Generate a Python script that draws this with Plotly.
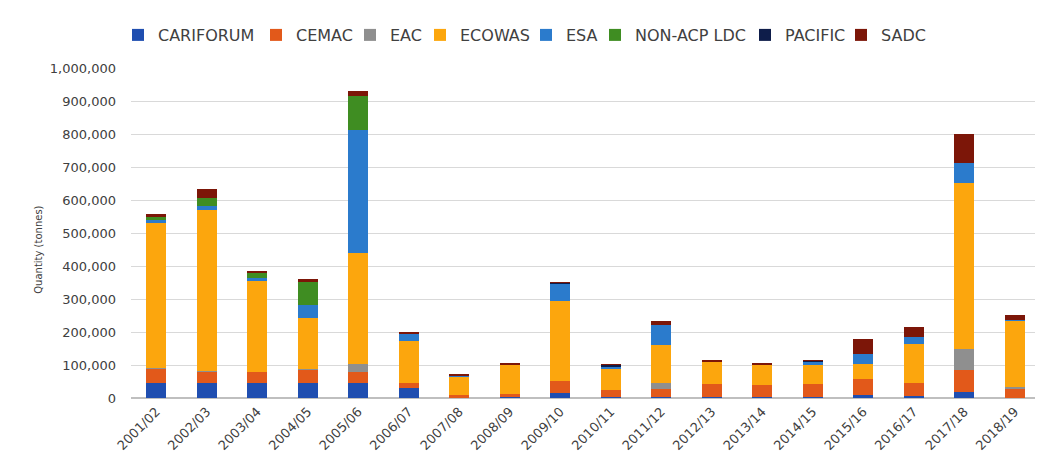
import plotly.graph_objects as go

years = ["2001/02", "2002/03", "2003/04", "2004/05", "2005/06", "2006/07", "2007/08",
         "2008/09", "2009/10", "2010/11", "2011/12", "2012/13", "2013/14", "2014/15",
         "2015/16", "2016/17", "2017/18", "2018/19"]

cariforum = [45000, 45000, 45000, 45000, 44000, 30000, 2000, 2000, 14000, 3000, 4000, 3000, 2000, 2000, 9000, 5000, 17000, 1000]
cemac     = [43000, 36000, 34000, 41000, 35000, 14000, 6000, 9000, 37000, 22000, 24000, 38000, 38000, 41000, 50000, 40000, 69000, 25000]
eac       = [2000, 2000, 1000, 1000, 23000, 0, 0, 0, 0, 0, 17000, 0, 0, 0, 0, 0, 62000, 8000]
ecowas    = [440000, 487000, 274000, 156000, 336000, 128000, 56000, 89000, 242000, 63000, 116000, 68000, 61000, 58000, 43000, 118000, 504000, 201000]
esa       = [10000, 12000, 11000, 38000, 375000, 23000, 2000, 0, 54000, 8000, 59000, 0, 0, 10000, 30000, 22000, 61000, 1000]
nonacp    = [10000, 25000, 13000, 70000, 101000, 0, 0, 0, 0, 0, 0, 0, 0, 0, 0, 0, 0, 0]
pacific   = [0, 0, 0, 0, 0, 0, 0, 0, 3000, 4000, 0, 0, 0, 2000, 0, 0, 0, 0]
sadc      = [8000, 27000, 8000, 11000, 16000, 4000, 8000, 4000, 1000, 1000, 14000, 7000, 3000, 1000, 48000, 30000, 88000, 17000]

series = [
    ("CARIFORUM", cariforum, "#1f4eb0"),
    ("CEMAC", cemac, "#e2591a"),
    ("EAC", eac, "#8f8f8f"),
    ("ECOWAS", ecowas, "#fca60d"),
    ("ESA", esa, "#2b7bcc"),
    ("NON-ACP LDC", nonacp, "#3f8d22"),
    ("PACIFIC", pacific, "#0e1d4a"),
    ("SADC", sadc, "#7c1608"),
]

y_title = "Quantity (tonnes)"

# left edge (px in figure) of each one-item legend box
legend_left = [110, 248, 342, 412, 518, 587, 737, 833]

W, H = 1043, 468
fig = go.Figure()
layout_legends = {}
for i, (name, vals, col) in enumerate(series):
    key = "legend" if i == 0 else f"legend{i+1}"
    fig.add_trace(go.Bar(x=years, y=vals, name=name, legend=key,
                         marker=dict(color=col, line=dict(width=0))))
    layout_legends[key] = dict(orientation="h", xref="container", x=legend_left[i] / W,
                               xanchor="left", y=1.1, yanchor="middle",
                               font=dict(size=16, color="#404040", family="DejaVu Sans"),
                               itemwidth=30, bgcolor="rgba(0,0,0,0)")

fig.update_layout(
    barmode="stack",
    bargap=0.6,
    width=W, height=H,
    margin=dict(l=123, r=11, t=60, b=78, autoexpand=False),
    paper_bgcolor="white", plot_bgcolor="white",
    font=dict(family="DejaVu Sans, sans-serif", color="#404040", size=12),
    showlegend=True,
    **layout_legends,
)
fig.add_annotation(text=y_title, textangle=-90, xref="paper", yref="paper",
                   x=-0.102, y=0.45, xanchor="center", yanchor="middle", showarrow=False,
                   font=dict(size=10, color="#404040"))
fig.update_yaxes(range=[0, 1000000], dtick=100000, tickformat=",d", gridcolor="#d9d9d9",
                 gridwidth=1, zeroline=True, zerolinecolor="#bfbfbf", showline=False,
                 ticks="", automargin=False, ticklabelstandoff=14,
                 tickfont=dict(size=13, color="#404040"))
fig.update_xaxes(tickangle=-45, showline=True, linecolor="#bfbfbf", ticks="", automargin=False,
                 tickfont=dict(size=13, color="#404040"), showgrid=False)

fig.write_html("out.html")
